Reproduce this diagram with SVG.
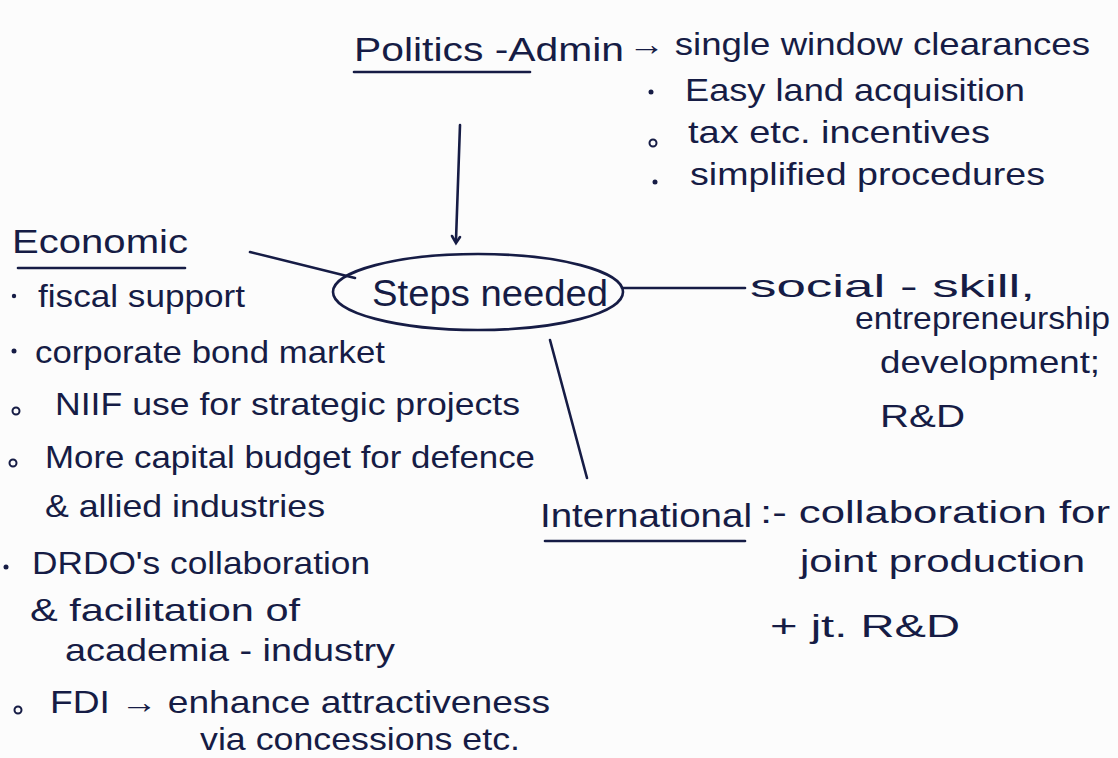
<svg xmlns="http://www.w3.org/2000/svg" width="1118" height="758" viewBox="0 0 1118 758">
  <style>
    .ink { fill: #161c45; font-family: "Liberation Sans", "DejaVu Sans", sans-serif; }
    .t { font-size: 32px; }
    .h { font-size: 34px; }
    .stroke { stroke: #161c45; stroke-width: 2.6; fill: none; stroke-linecap: round; }
    .dot { fill: #161c45; }
    .ring { fill: none; stroke: #161c45; stroke-width: 2; }
  </style>
  <rect width="1118" height="758" fill="#fcfcfc"/>

  <!-- connectors radiating from the centre -->
  <g id="connectors" class="stroke">
    <path d="M460 125 L456 240"/>
    <path d="M452 236 L456 243 L460 237"/>
    <path d="M250 252 L355 278"/>
    <path d="M622 288 L745 288"/>
    <path d="M550 340 L587 478"/>
  </g>

  <!-- central node -->
  <g id="steps-needed">
    <ellipse cx="478" cy="292" rx="145" ry="38" class="stroke"/>
    <text class="ink" x="372" y="306" font-size="36" textLength="236" lengthAdjust="spacingAndGlyphs">Steps needed</text>
  </g>

  <!-- politico-administrative branch -->
  <g id="politico-admin">
    <text class="ink h" x="354" y="61" textLength="270" lengthAdjust="spacingAndGlyphs">Politics -Admin</text>
    <path d="M354 72 L530 72" class="stroke"/>
    <text class="ink t" x="628" y="55" textLength="462" lengthAdjust="spacingAndGlyphs">→ single window clearances</text>
    <circle cx="651" cy="92" r="2.5" class="dot"/>
    <text class="ink t" x="685" y="101" textLength="340" lengthAdjust="spacingAndGlyphs">Easy land acquisition</text>
    <circle cx="653" cy="143" r="3.5" class="ring"/>
    <text class="ink t" x="688" y="143" textLength="302" lengthAdjust="spacingAndGlyphs">tax etc. incentives</text>
    <circle cx="655" cy="182" r="2.5" class="dot"/>
    <text class="ink t" x="690" y="185" textLength="355" lengthAdjust="spacingAndGlyphs">simplified procedures</text>
  </g>

  <!-- economic branch -->
  <g id="economic">
    <text class="ink h" x="12" y="253" textLength="176" lengthAdjust="spacingAndGlyphs">Economic</text>
    <path d="M18 268 L185 268" class="stroke"/>
    <circle cx="14" cy="296" r="2.2" class="dot"/>
    <text class="ink t" x="38" y="307" textLength="207" lengthAdjust="spacingAndGlyphs">fiscal support</text>
    <circle cx="14" cy="351" r="2.5" class="dot"/>
    <text class="ink t" x="35" y="363" textLength="350" lengthAdjust="spacingAndGlyphs">corporate bond market</text>
    <circle cx="16" cy="411" r="3.5" class="ring"/>
    <text class="ink t" x="55" y="415" textLength="465" lengthAdjust="spacingAndGlyphs">NIIF use for strategic projects</text>
    <circle cx="13" cy="463" r="3.5" class="ring"/>
    <text class="ink t" x="45" y="468" textLength="490" lengthAdjust="spacingAndGlyphs">More capital budget for defence</text>
    <text class="ink t" x="45" y="517" textLength="280" lengthAdjust="spacingAndGlyphs">&amp; allied industries</text>
    <circle cx="6" cy="567" r="2.5" class="dot"/>
    <text class="ink t" x="32" y="574" textLength="338" lengthAdjust="spacingAndGlyphs">DRDO's collaboration</text>
    <text class="ink t" x="30" y="621" textLength="270" lengthAdjust="spacingAndGlyphs">&amp; facilitation of</text>
    <text class="ink t" x="65" y="661" textLength="330" lengthAdjust="spacingAndGlyphs">academia - industry</text>
    <circle cx="18" cy="710" r="3.5" class="ring"/>
    <text class="ink t" x="50" y="713" textLength="500" lengthAdjust="spacingAndGlyphs">FDI → enhance attractiveness</text>
    <text class="ink t" x="200" y="750" textLength="320" lengthAdjust="spacingAndGlyphs">via concessions etc.</text>
  </g>

  <!-- social branch -->
  <g id="social">
    <text class="ink t" x="750" y="297" textLength="285" lengthAdjust="spacingAndGlyphs">social - skill,</text>
    <text class="ink t" x="855" y="329" textLength="255" lengthAdjust="spacingAndGlyphs">entrepreneurship</text>
    <text class="ink t" x="880" y="373" textLength="220" lengthAdjust="spacingAndGlyphs">development;</text>
    <text class="ink t" x="880" y="427" textLength="85" lengthAdjust="spacingAndGlyphs">R&amp;D</text>
  </g>

  <!-- international branch -->
  <g id="international">
    <text class="ink h" x="540" y="527" textLength="212" lengthAdjust="spacingAndGlyphs">International</text>
    <path d="M545 541 L745 541" class="stroke"/>
    <text class="ink t" x="760" y="523" textLength="350" lengthAdjust="spacingAndGlyphs">:- collaboration for</text>
    <text class="ink t" x="800" y="572" textLength="285" lengthAdjust="spacingAndGlyphs">joint production</text>
    <text class="ink t" x="770" y="637" textLength="190" lengthAdjust="spacingAndGlyphs">+ jt. R&amp;D</text>
  </g>
</svg>
